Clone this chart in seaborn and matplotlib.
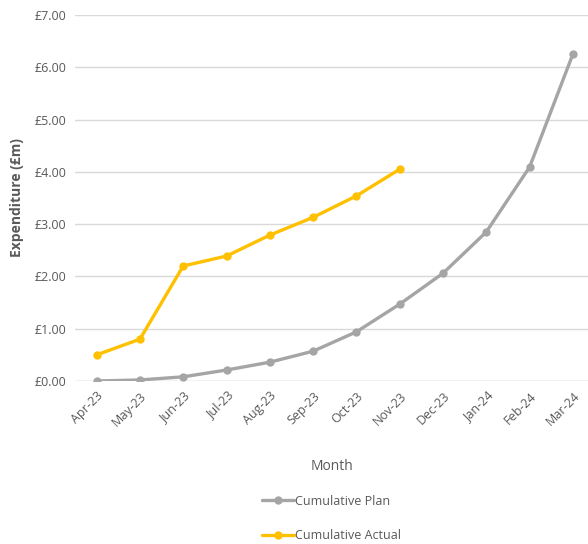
import matplotlib
matplotlib.use("Agg")
import matplotlib.pyplot as plt
import seaborn as sns
import pandas as pd
import numpy as np

months = ["Apr-23", "May-23", "Jun-23", "Jul-23", "Aug-23", "Sep-23",
          "Oct-23", "Nov-23", "Dec-23", "Jan-24", "Feb-24", "Mar-24"]
plan = [0.00, 0.02, 0.08, 0.21, 0.36, 0.57, 0.94, 1.47, 2.06, 2.85, 4.09, 6.25]
actual = [0.50, 0.80, 2.20, 2.39, 2.79, 3.13, 3.54, 4.05]
y_ticks = [0, 1, 2, 3, 4, 5, 6, 7]

sns.set_theme(style="white")
plt.rcParams['font.family'] = ['Open Sans', 'DejaVu Sans']

df = pd.concat([
    pd.DataFrame({"Month": months, "idx": range(len(months)), "Value": plan, "Series": "Cumulative Plan"}),
    pd.DataFrame({"Month": months[:len(actual)], "idx": range(len(actual)), "Value": actual, "Series": "Cumulative Actual"}),
])

fig = plt.figure(figsize=(5.88, 5.44), dpi=100)
ax = fig.add_axes([75/588, 1-381/544, 1-75/588, (381-15)/544])

palette = {"Cumulative Plan": "#A5A5A5", "Cumulative Actual": "#FFC000"}
sns.lineplot(data=df, x="idx", y="Value", hue="Series", palette=palette,
             marker="o", markersize=6, markeredgewidth=0, linewidth=2.4,
             ax=ax, legend=True)

ax.set_xlim(-0.5, 11.35)
ax.set_ylim(0, 7)
ax.set_yticks(y_ticks)
ax.set_yticklabels([f"£{v:.2f}" for v in y_ticks], color="#595959", fontsize=9)
ax.set_xticks(range(len(months)))
ax.set_xticklabels(months, rotation=45, ha="right", rotation_mode="anchor",
                   color="#595959", fontsize=9)
ax.tick_params(axis="both", length=0, pad=6)
ax.yaxis.grid(True, color="#D9D9D9", linewidth=1)
ax.xaxis.grid(False)
for s in ax.spines.values():
    s.set_visible(False)
ax.axhline(0, color="#D9D9D9", linewidth=1, zorder=0)

ax.set_xlabel("Month", color="#595959", fontsize=10, labelpad=22)
ax.set_ylabel("Expenditure (£m)", color="#595959", fontsize=10, fontweight="bold", labelpad=8)

handles, labels = ax.get_legend_handles_labels()
leg = ax.legend(handles, labels, loc="upper center", bbox_to_anchor=(0.5, -0.28),
                frameon=False, ncol=1, fontsize=9, labelspacing=1.7,
                handlelength=2.5, handletextpad=0.1)
for t in leg.get_texts():
    t.set_color("#595959")

fig.savefig("out.png", dpi=100)
